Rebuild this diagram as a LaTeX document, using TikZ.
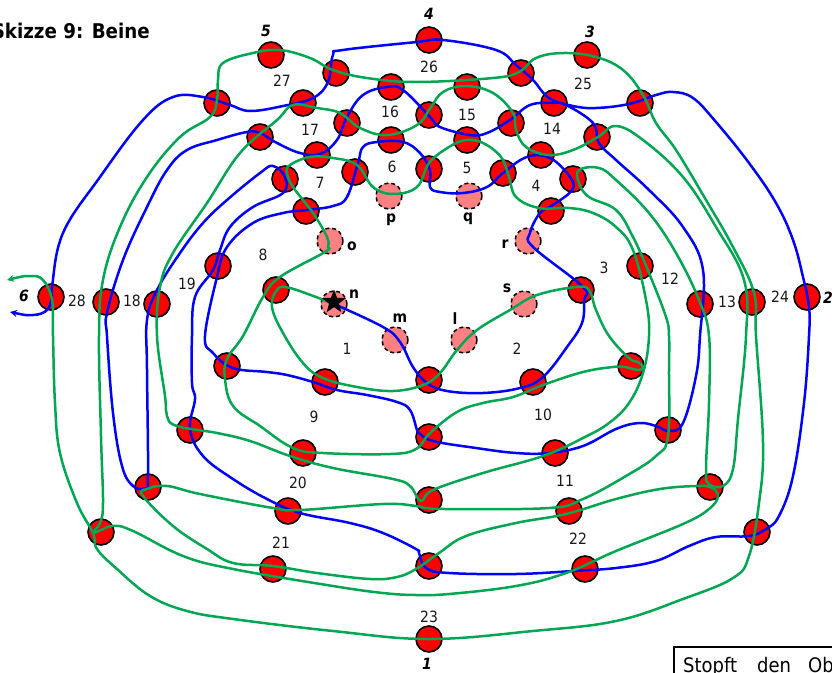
\documentclass[tikz,border=0pt]{standalone}
\usepackage{fontspec}
\usetikzlibrary{shapes.geometric,arrows.meta}
\setmainfont{DejaVu Sans Condensed}
\definecolor{stitchgreen}{RGB}{0,166,81}
\definecolor{stitchblue}{RGB}{0,0,255}
\definecolor{holepink}{RGB}{255,128,128}
\tikzset{
  hole/.style={circle,draw=black,line width=1.6pt,fill=red,minimum size=26pt,inner sep=0pt},
  guide/.style={circle,draw=black,line width=1.5pt,dashed,dash pattern=on 4pt off 3pt,fill=holepink,minimum size=26pt,inner sep=0pt},
  num/.style={font=\fontsize{15.5}{16}\selectfont,text=black!90,inner sep=0pt},
  corner/.style={font=\fontsize{15.5}{16}\selectfont\bfseries\itshape,inner sep=0pt},
  letter/.style={font=\fontsize{15.5}{16}\selectfont\bfseries,inner sep=0pt},
  thread/.style={line width=2.5pt,line cap=round,line join=round}
}
\begin{document}
\begin{tikzpicture}[x=1pt,y=-1pt]
\useasboundingbox (0,0) rectangle (832,672);
\foreach \nm/\x/\y in {t5/271/55,t4/429/40,t3/587/55,t6/51/297,t2/807/297,t1/429/639,
 a1/336/73,a2/217/103,a3/303/103,a4/391/87,a5/467/87,a6/521/73,a7/554/103,a8/640/103,
 b1/347/123,b2/260/137,b3/317/155,b4/391/140,b5/429/115,b6/467/140,b7/511/123,b8/597/137,b9/541/155,
 c1/355/172,c2/285/179,c3/306/211,c4/429/169,c5/503/173,c6/573/179,c7/551/211,
 d1/218/266,d2/276/290,d3/581/290,d4/640/266,
 e1/106/302,e2/157/304,e3/700/304,e4/752/302,
 f1/227/366,f2/325/382,f3/429/380,f4/533/382,f5/631/366,
 g1/190/430,g2/303/453,g3/429/437,g4/555/453,g5/668/430,
 h1/148/487,h2/288/511,h3/429/500,h4/569/511,h5/710/487,
 i1/101/532,i2/273/569,i3/429/566,i4/585/569,i5/757/532}
  {\node[hole] (\nm) at (\x,\y) {};}
\foreach \nm/\x/\y in {p/389/196,q/469/196,o/330/241,r/528/241,s/524/304,l/464/340,m/395/340,n/334/304}
  {\node[guide] (\nm) at (\x,\y) {};}
\coordinate (endblue) at (10,312);
\coordinate (endgreen) at (7,280);
\draw[thread,stitchblue,{Stealth[length=7pt,width=7pt]}-] plot[smooth,tension=0.65] coordinates {
 (endblue) (33,315) (47,310) (52,297) (52,287) (63,233) (100,177) (143,120) (173,97) (203,97) (230,105) (250,111) (283,106) (313,98) (328,82) (333,55) (343,50) (417,42) (443,40) (496,50) (516,65) (533,80) (549,98) (573,106) (596,108) (629,104) (656,95) (673,92) (693,98) (716,122) (749,163) (776,203) (793,240) (803,277) (809,307) (809,336) (804,403) (793,476) (779,516) (766,529) (749,536) (716,537) (689,546) (656,561) (616,568) (573,571) (516,574) (449,573) (426,568) (419,553) (416,549) (383,533) (350,523) (300,513) (267,499) (233,479) (203,456) (190,429) (195,399) (192,383) (192,336) (195,297) (213,270) (220,250) (230,227) (253,207) (283,193) (285,177) (273,166) (260,173) (227,200) (203,223) (180,253) (157,290) (147,320) (147,369) (148,476) (145,488) (133,486) (122,466) (113,413) (107,336) (107,313) (123,260) (147,207) (167,170) (187,150) (217,140) (247,132) (260,133) (277,143) (300,153) (320,154) (337,140) (347,117) (363,95) (387,87) (403,90) (430,117) (440,127) (470,135) (487,133) (510,120) (530,105) (553,103) (566,105) (593,123) (599,143) (616,160) (649,190) (683,227) (703,270) (700,336) (696,376) (683,423) (669,431) (656,426) (639,423) (616,429) (583,446) (549,453) (516,453) (476,448) (433,441) (419,433) (417,430) (410,410) (397,402) (367,395) (337,390) (313,382) (287,375) (267,372) (233,368) (213,353) (205,336) (217,277) (227,247) (253,223) (283,213) (307,210) (333,206) (347,197) (358,163) (363,147) (377,142) (403,142) (420,153) (430,170) (430,187) (440,192) (463,193) (487,187) (503,173) (527,157) (550,158) (570,177) (572,190) (553,205) (540,213) (530,233) (533,247) (583,287) (584,300) (582,323) (567,347) (543,377) (520,388) (483,393) (447,391) (427,383) (413,367) (400,342) (383,327) (n.center)
};
\draw[thread,stitchgreen,{Stealth[length=7pt,width=7pt]}-] plot[smooth,tension=0.65] coordinates {
 (endgreen) (30,276) (43,280) (52,300) (53,336) (55,403) (60,453) (77,503) (93,533) (97,549) (117,569) (150,596) (187,611) (233,619) (333,631) (t1.center) (533,631) (616,621) (683,599) (733,578) (749,556) (759,503) (763,443) (756,336) (754,293) (733,247) (706,200) (676,150) (656,123) (643,95) (623,70) (596,57) (563,53) (536,58) (519,72) (493,78) (416,82) (367,78) (333,70) (310,58) (280,50) (253,53) (223,63) (218,80) (217,100) (210,117) (180,137) (147,177) (120,227) (103,280) (99,336) (101,436) (103,503) (100,523) (93,533) (113,526) (133,531) (183,556) (233,569) (333,586) (383,593) (416,595) (449,594) (516,586) (566,573) (616,551) (683,524) (709,509) (718,496) (710,487) (696,486) (660,489) (616,499) (566,514) (516,523) (466,536) (439,553) (416,569) (397,577) (370,579) (317,573) (273,566) (233,563) (207,549) (173,526) (143,496) (147,489) (167,486) (200,494) (273,508) (300,510) (383,504) (416,506) (426,508) (449,509) (549,508) (583,499) (626,476) (656,456) (668,436) (669,369) (669,336) (666,317) (649,273) (633,237) (616,210) (589,197) (579,183) (579,170) (599,168) (616,180) (649,213) (676,253) (699,300) (709,336) (709,403) (706,469) (709,484) (723,486) (733,469) (738,419) (746,336) (744,280) (716,227) (683,177) (643,140) (616,126) (598,137) (573,150) (549,155) (526,147) (516,130) (513,113) (493,93) (466,86) (443,92) (431,107) (417,125) (387,135) (360,128) (340,113) (317,108) (293,105) (277,120) (240,153) (207,203) (173,253) (160,287) (157,336) (165,396) (167,416) (177,426) (217,433) (250,441) (290,456) (333,468) (393,479) (410,486) (421,501) (433,490) (483,473) (543,456) (583,438) (609,423) (629,403) (643,373) (649,336) (646,300) (633,250) (616,227) (593,213) (569,208) (539,208) (516,197) (509,177) (501,157) (483,143) (466,140) (449,147) (429,163) (417,187) (393,194) (373,187) (357,165) (333,158) (310,157) (290,165) (287,173) (293,187) (313,213) (327,237) (328,247) (325,252) (280,277) (263,297) (243,336) (227,359) (225,379) (233,406) (260,426) (293,448) (323,453) (390,454) (416,449) (430,433) (457,412) (483,403) (513,397) (543,385) (583,372) (613,367) (625,367) (638,370) (643,367) (638,362) (629,358) (609,336) (596,310) (589,290) (576,287) (537,295) (510,310) (477,330) (457,350) (440,373) (423,385) (393,391) (357,387) (323,378) (303,363) (283,333) (272,307) (277,290) (290,288) (n.center)
};
\node[star,star points=5,star point ratio=2.4,fill=black,minimum size=25pt,inner sep=0pt] (starmark) at (334,302) {};
\foreach \t/\x/\y in {27/282/81,26/429/67,25/583/84,16/390/112,15/467/115,14/552/129,17/310/130,7/320/183,6/392/167,5/467/168,4/536/186,8/263/255,3/604/268,12/670/279,19/187/284,28/77/301,18/132/301,13/727/302,24/780/297,1/347/349,2/517/349,9/314/417,10/543/415,11/565/481,20/298/483,21/281/543,22/578/539,23/429/617}
  {\node[num] (lab\t) at (\x,\y) {\t};}
\foreach \t/\x/\y in {5/266/31,4/429/14,3/590/32,6/24/296,2/828/298,1/427/664}
  {\node[corner] (cor\t) at (\x,\y) {\t};}
\foreach \t/\x/\y in {p/391/220,q/468/219,o/352/246,r/505/244,n/354/294,m/400/318,l/455/319,s/507/288}
  {\node[letter] (let\t) at (\x,\y) {\t};}
\node[anchor=east,font=\fontsize{20.3}{22}\selectfont\bfseries,inner sep=0pt] (title) at (150,31) {Skizze 9: Beine};
\node[draw=black,line width=1.5pt,anchor=north west,minimum width=200pt,minimum height=60pt,inner sep=0pt] (notebox) at (673,646) {};
\node[anchor=base west,font=\fontsize{20}{22}\selectfont,inner sep=0pt] (notetext) at (683,672) {\makebox[74pt][l]{Stopft}\makebox[51pt][l]{den}Ob};
\end{tikzpicture}
\end{document}
